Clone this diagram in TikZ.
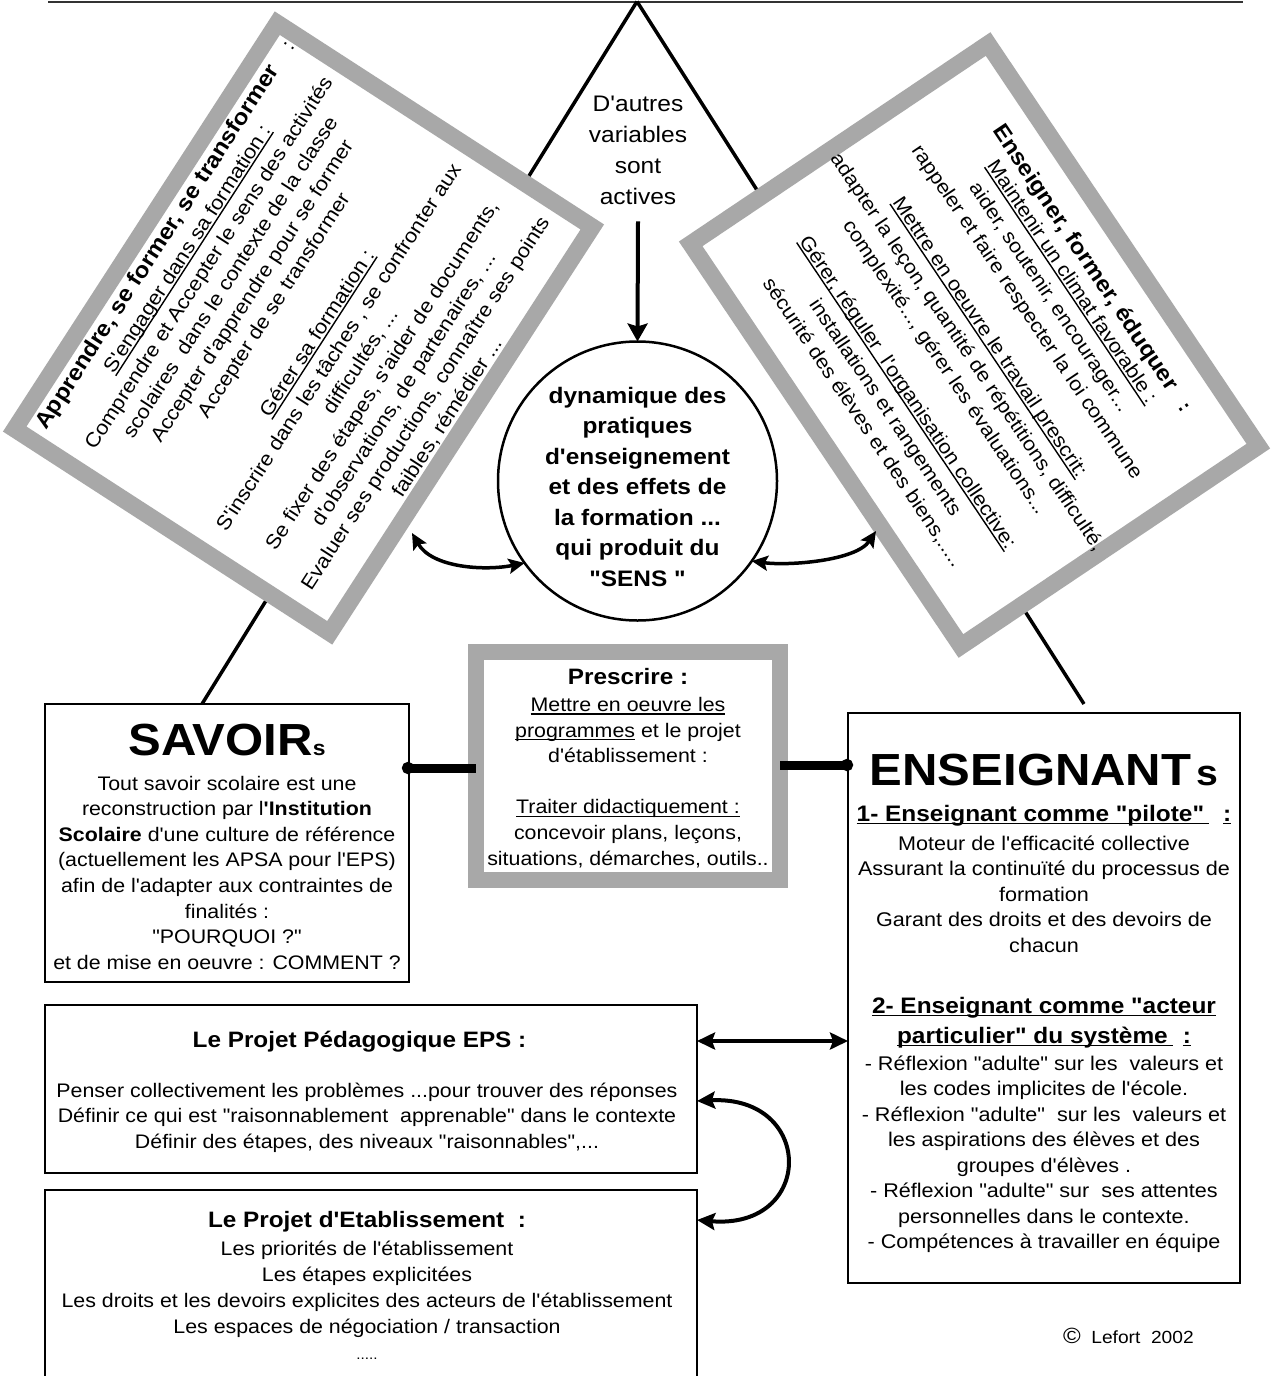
\documentclass[tikz,border=0pt]{standalone}
\usepackage{fontspec}
\newfontfamily\af{Liberation Sans}[FakeStretch=1.09]
\usetikzlibrary{arrows.meta,calc}
\definecolor{boxgray}{RGB}{168,168,168}
\newcommand\frl[1]{\rule{0pt}{#1pt}}
\newcommand\fsz[2]{\fontsize{#1}{#2}\selectfont}
\newcommand\ulx[1]{\setbox0\hbox{#1}\rlap{\rule[-3.2pt]{\wd0}{1.4pt}}\box0}
\begin{document}
\begin{tikzpicture}[x=1pt,y=-1pt,
  every node/.style={inner sep=0pt, outer sep=0pt, font=\af},
  plainbox/.style={draw=black, line width=2.8pt, fill=white},
  graybox/.style={draw=boxgray, line width=17pt, fill=white},
  body/.style={align=center, font=\af\fsz{19.6}{25.6}},
  link/.style={line width=3.5pt},
  bar/.style={line width=9pt},
  dbl/.style={line width=4pt, >={Stealth[length=18pt,width=17pt,inset=3pt]}, <->}]

\path[use as bounding box, fill=white] (0,0) rectangle (1271,1376);

% helper coordinates
\coordinate (h768) at (0,768);
\coordinate (h765) at (0,765);
\coordinate (h1041) at (0,1041);
\coordinate (h1101) at (0,1101);
\coordinate (h1220) at (0,1220);

% plain boxes
\node[plainbox, minimum width=364pt, minimum height=278pt] (sav) at (227,843) {};
\node[plainbox, minimum width=392pt, minimum height=570pt] (ens) at (1044,998) {};
\node[plainbox, minimum width=652pt, minimum height=168pt] (pp) at (371,1089) {};
\node[plainbox, minimum width=652pt, minimum height=200pt] (pe) at (371,1290) {};
\node[draw=boxgray, line width=16pt, fill=white, minimum width=304pt, minimum height=228pt] (pres) at (628,766) {};

% top line and triangle
\coordinate (tl) at (48,1.5);
\coordinate (tr) at (1243,1.5);
\coordinate (apex) at (637,1.5);
\draw[line width=2pt, black!80] (tl) -- (tr);
\draw[link] (apex) -- ([xshift=157pt]sav.north west);
\draw[link] (apex) -- ([xshift=236pt,yshift=9pt]ens.north west);

% left rotated box
\begin{scope}[shift={(303.5,328)}, rotate=57.1]
  \node[graybox, transform shape, minimum width=483.4pt, minimum height=375.2pt] (lbox) at (0,0) {};
  \node[transform shape, anchor=north, align=center, font=\af\fsz{20}{25.8}] (ltxt) at (3,-190)
  {\frl{30}\makebox[458pt]{{\bfseries\fsz{22.3}{25.8}Apprendre, se former, se transformer}\hfill:}\\
   \ulx{S'engager dans sa formation :}\\
   Comprendre et Accepter le sens des activités\\
   scolaires\ \ dans le contexte de la classe\\
   Accepter d'apprendre pour se former\\
   Accepter de se transformer\\[25.8pt]
   \ulx{Gérer sa formation :}\\
   S'inscrire dans les tâches , se confronter aux\\
   difficultés, ...\\
   Se fixer des étapes, s'aider de documents,\\
   d'observations, de partenaires, ...\\
   Evaluer ses productions, connaître ses points\\
   faibles, rémédier ...};
\end{scope}

% right rotated box
\begin{scope}[shift={(974.5,345)}, rotate=-56.1]
  \node[graybox, transform shape, minimum width=484.5pt, minimum height=358.3pt] (rbox) at (0,0) {};
  \node[transform shape, anchor=north, align=center, font=\af\fsz{19.8}{27}] (rtxt) at (2,-164)
  {\frl{30}\makebox[340pt]{{\bfseries\fsz{22.3}{27}Enseigner, former, éduquer}\hfill\textbf{:}}\\[-3pt]
   \ulx{Maintenir un climat favorable :}\\
   aider, soutenir, encourager...\\
   rappeler et faire respecter la loi commune\\[18pt]
   \ulx{Mettre en oeuvre le travail prescrit:}\\
   adapter la leçon, quantité de répétitions, difficulté,\\
   complexité..., gérer les évaluations...\\[18pt]
   \ulx{Gérer, réguler\ \ l'organisation collective:}\\
   installations et rangements\\
   sécurité des élèves et des biens,.....};
\end{scope}

% centre
\node[align=center, font=\af\fsz{22.5}{31}] (dautres) at (638,150) {D'autres\\variables\\sont\\actives};
\node[circle, draw, line width=2.5pt, fill=white, minimum size=279pt] (circ) at (637.5,481) {};
\node[align=center, font=\af\bfseries\fsz{22.4}{30.5}] (senstxt) at ([yshift=-5.5pt]circ.center)
  {dynamique des\\pratiques\\d'enseignement\\et des effets de\\la formation ...\\qui produit du\\"SENS "};
\draw[line width=4pt, -{Stealth[length=18pt,width=20pt,inset=3pt]}] ([yshift=-17pt]dautres.south) -- (circ.north);

\coordinate (la) at (412,533);
\coordinate (ra) at (876,531);
\draw[line width=3.5pt, >={Stealth[length=16pt,width=15pt,inset=3pt]}, <->]
  (la) .. controls (432,568) and (485,571) .. (circ.216);
\draw[line width=3.5pt, >={Stealth[length=16pt,width=15pt,inset=3pt]}, <->]
  (circ.325) .. controls (788,566) and (856,561) .. (ra);

% bars
\draw[bar, {Circle[length=12pt]}-] ([xshift=-7pt]sav.east |- h768) -- (pres.west |- h768);
\draw[bar, -{Circle[length=12pt]}] (pres.east |- h765) -- ([xshift=5pt]ens.west |- h765);

% lower arrows
\draw[dbl] (pp.east |- h1041) -- (ens.west |- h1041);
\draw[dbl] (pp.east |- h1101) .. controls (815,1095) and (815,1230) .. (pe.east |- h1220);

% texts of boxes
\node[body, anchor=north] (savtxt) at (227,715)
 {\frl{40}{\bfseries\fsz{45}{45}SAVOIR}{\bfseries\fsz{21}{21}s}\\[9.4pt]
  Tout savoir scolaire est une\\
  reconstruction par l{\bfseries'Institution}\\
  {\bfseries Scolaire} d'une culture de référence\\
  (actuellement les APSA pour l'EPS)\\
  afin de l'adapter aux contraintes de\\
  finalités :\\
  "POURQUOI ?"\\
  et de mise en oeuvre : COMMENT ?};

\node[body, anchor=north] (prestxt) at (628,654)
 {\frl{30}{\bfseries\fsz{22.3}{25.6}Prescrire :}\\[1.9pt]
  \ulx{Mettre en oeuvre les}\\
  \ulx{programmes}\ et le projet\\
  d'établissement :\\[25.6pt]
  \ulx{Traiter didactiquement :}\\
  concevoir plans, leçons,\\
  situations, démarches, outils..};

\node[body, anchor=north, font=\af\fsz{19.8}{25.5}] (enstxt) at (1044,745)
 {\frl{40}{\bfseries\fsz{45}{45}ENSEIGNANT\hspace{5pt}{\fsz{36}{36}s}}\\[10.5pt]
  {\bfseries\fsz{22.4}{25.5}\ulx{1- Enseignant comme "pilote"\hspace{5pt}}\hspace{14pt}\ulx{:}}\\[3.5pt]
  Moteur de l'efficacité collective\\
  Assurant la continuïté du processus de\\
  formation\\
  Garant des droits et des devoirs de\\
  chacun\\[35.5pt]
  {\bfseries\fsz{22.4}{25.5}\ulx{2- Enseignant comme "acteur}}\\[4.5pt]
  {\bfseries\fsz{22.4}{25.5}\ulx{particulier" du système\hspace{5pt}}\hspace{10pt}\ulx{:}}\\[1.5pt]
  - Réflexion "adulte" sur les\ \ valeurs et\\
  les codes implicites de l'école.\\
  - Réflexion "adulte"\ \ sur les\ \ valeurs et\\
  les aspirations des élèves et des\\
  groupes d'élèves .\\
  - Réflexion "adulte" sur\ \ ses attentes\\
  personnelles dans le contexte.\\
  - Compétences à travailler en équipe};

\node[body, anchor=north] (pptxt) at (367,1017)
 {\frl{30}{\bfseries\fsz{22.3}{25.6}Le Projet Pédagogique EPS :}\rule{15pt}{0pt}\\[24.4pt]
  Penser collectivement les problèmes ...pour trouver des réponses\\
  Définir ce qui est "raisonnablement\ \ apprenable" dans le contexte\\
  Définir des étapes, des niveaux "raisonnables",...};

\node[body, anchor=north, font=\af\fsz{19.6}{26}] (petxt) at (367,1197)
 {\frl{30}{\bfseries\fsz{22.3}{26}Le Projet d'Etablissement\ \ :}\\[2pt]
  Les priorités de l'établissement\\
  Les étapes explicitées\\
  Les droits et les devoirs explicites des acteurs de l'établissement\\
  Les espaces de négociation / transaction\\
  {\fsz{14}{26}.....}};

\node[anchor=base west, font=\af\fsz{17.6}{20}] (copy) at (1063,1343) {{\fsz{22}{22}©}\ \ Lefort\ \ 2002};

\end{tikzpicture}
\end{document}
